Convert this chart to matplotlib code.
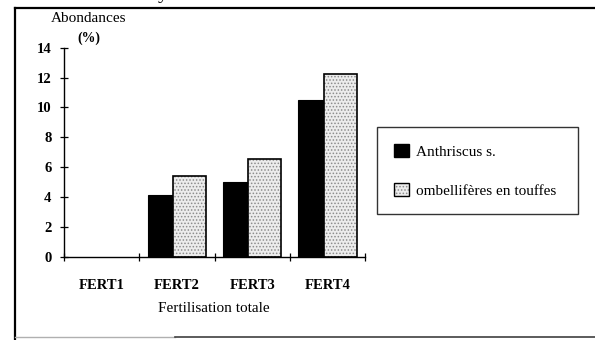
import matplotlib
matplotlib.use('Agg')
import matplotlib.pyplot as plt
from matplotlib.lines import Line2D
from matplotlib.patches import Patch
import numpy as np

# Abondances (%) par niveau de fertilisation
categories = ['FERT1', 'FERT2', 'FERT3', 'FERT4']
anthriscus = [0.0, 4.15, 5.0, 10.5]
ombelliferes = [0.0, 5.4, 6.55, 12.25]
series_names = ['Anthriscus s.', 'ombellifères en touffes']
yticks = [0, 2, 4, 6, 8, 10, 12, 14]

plt.rcParams['font.family'] = ['Liberation Serif', 'DejaVu Serif']
plt.rcParams['hatch.linewidth'] = 0.7

DOT_FACE = '#ececec'
DOT_INK = '#8c8c8c'

fig = plt.figure(figsize=(5.95, 3.4), dpi=100)
ax = fig.add_axes([64 / 595, 1 - 256.7 / 340, 301 / 595, 209 / 340])

x = np.arange(len(categories))
w = 0.44
off = 0.17
a = np.array(anthriscus)
o = np.array(ombelliferes)

# empty bars get no outline
ax.bar(x - off, a, w, color='black', edgecolor='black',
       linewidth=np.where(a > 0, 0.8, 0))
# stippled fill, then a plain outline on top
ax.bar(x + off, o, w, color=DOT_FACE, edgecolor=DOT_INK,
       linewidth=0, hatch='.....')
ax.bar(x + off, o, w, fill=False, edgecolor='black',
       linewidth=np.where(o > 0, 1.2, 0))

ax.set_xlim(-0.5, len(categories) - 0.5)
ax.set_ylim(0, 14)
for side in ('top', 'right'):
    ax.spines[side].set_visible(False)
for side in ('left', 'bottom'):
    ax.spines[side].set_linewidth(1.0)

ax.set_yticks(yticks)
ax.set_yticklabels([str(v) for v in yticks], fontsize=10.5, fontweight='bold')
ax.tick_params(axis='y', direction='inout', length=6, width=0.9, pad=6)

ax.set_xticks(np.arange(len(categories) + 1) - 0.5)
ax.set_xticklabels([])
ax.set_xticks(x, minor=True)
ax.set_xticklabels(categories, minor=True, fontsize=10.5, fontweight='bold')
ax.tick_params(axis='x', which='major', direction='inout', length=6, width=0.9)
ax.tick_params(axis='x', which='minor', length=0, pad=16)

fig.text(89 / 595, 1 - 18 / 340, 'Abondances', ha='center', va='center', fontsize=11)
fig.text(89 / 595, 1 - 38 / 340, '(%)', ha='center', va='center', fontsize=10,
         fontweight='bold')
fig.text(214 / 595, 1 - 309 / 340, 'Fertilisation totale', ha='center',
         va='center', fontsize=11)

# fragment of the heading above, cut by the page edge
fig.text(163 / 595, 1 + 2 / 340, 'y', ha='center', va='baseline', fontsize=15)

handles = [
    Patch(facecolor='black', edgecolor='black'),
    (Patch(facecolor=DOT_FACE, edgecolor=DOT_INK, linewidth=0, hatch='.....'),
     Patch(fill=False, edgecolor='black', linewidth=1.0)),
]
leg = fig.legend(handles, series_names, loc='upper left',
                 bbox_to_anchor=(377 / 595, 1 - 219 / 340, 201 / 595, 92 / 340),
                 mode='expand', fontsize=11, frameon=True, fancybox=False,
                 borderpad=1.1, labelspacing=1.55, handlelength=1.0,
                 handleheight=1.0, handletextpad=0.45, borderaxespad=0)
leg.get_frame().set_edgecolor('black')
leg.get_frame().set_linewidth(1.0)

# page frame around the figure
fig.add_artist(Line2D([15 / 595, 15 / 595], [1 - 8 / 340, 0], color='black', lw=1.6))
fig.add_artist(Line2D([15 / 595, 1], [1 - 8 / 340, 1 - 8 / 340], color='black', lw=1.6))
fig.add_artist(Line2D([15 / 595, 175 / 595], [1 - 337 / 340, 1 - 337 / 340],
                      color='#b0b0b0', lw=1.0))
fig.add_artist(Line2D([175 / 595, 1], [1 - 337 / 340, 1 - 337 / 340],
                      color='#404040', lw=1.2))

fig.savefig('out.png', dpi=100)
